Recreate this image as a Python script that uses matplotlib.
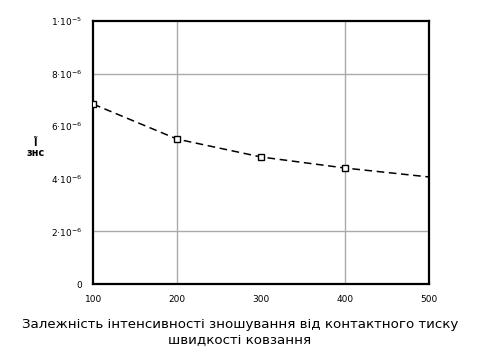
import matplotlib
matplotlib.use('Agg')
import matplotlib.pyplot as plt

# contact pressure / sliding speed
x_vals = [100, 200, 300, 400, 500]
# wear intensity, in units of 1e-6
y_vals = [6.84, 5.51, 4.83, 4.41, 4.07]

x_ticks = [100, 200, 300, 400, 500]
y_ticks = [0, 2, 4, 6, 8, 10]
y_labels = ['0', '2·10$^{-6}$', '4·10$^{-6}$', '6·10$^{-6}$', '8·10$^{-6}$', '1·10$^{-5}$']

fig = plt.figure(figsize=(4.8, 3.49), dpi=100)
ax = fig.add_axes([0.194, 0.186, 0.7, 0.754])

for gx in (200, 400):
    ax.axvline(gx, color='#aaaaaa', lw=1, zorder=1)
for gy in (2, 8):
    ax.axhline(gy, color='#aaaaaa', lw=1, zorder=1)

ax.plot(x_vals[:-1], y_vals[:-1], ls='none', marker='s', ms=4,
        mfc='white', mec='black', mew=1, zorder=3)
ax.plot(x_vals, y_vals, color='black', ls=(0, (5, 3)), lw=1.1, zorder=2)

ax.set_xlim(100, 500)
ax.set_ylim(0, 10)
ax.set_xticks(x_ticks)
ax.set_xticklabels([str(v) for v in x_ticks], fontsize=6.5)
ax.set_yticks(y_ticks)
ax.set_yticklabels(y_labels, fontsize=6.5)
ax.tick_params(length=0, pad=8)
for s in ax.spines.values():
    s.set_linewidth(1.6)

fig.text(0.075, 0.575, 'Ĩ\nзнс', fontsize=7, ha='center', va='center',
         fontweight='bold', linespacing=1.0)

fig.text(0.5, 0.07, 'Залежність інтенсивності зношування від контактного тиску',
         fontsize=9.6, ha='center', va='center')
fig.text(0.5, 0.025, 'швидкості ковзання', fontsize=9.6, ha='center', va='center')

fig.savefig('out.png', dpi=100)
